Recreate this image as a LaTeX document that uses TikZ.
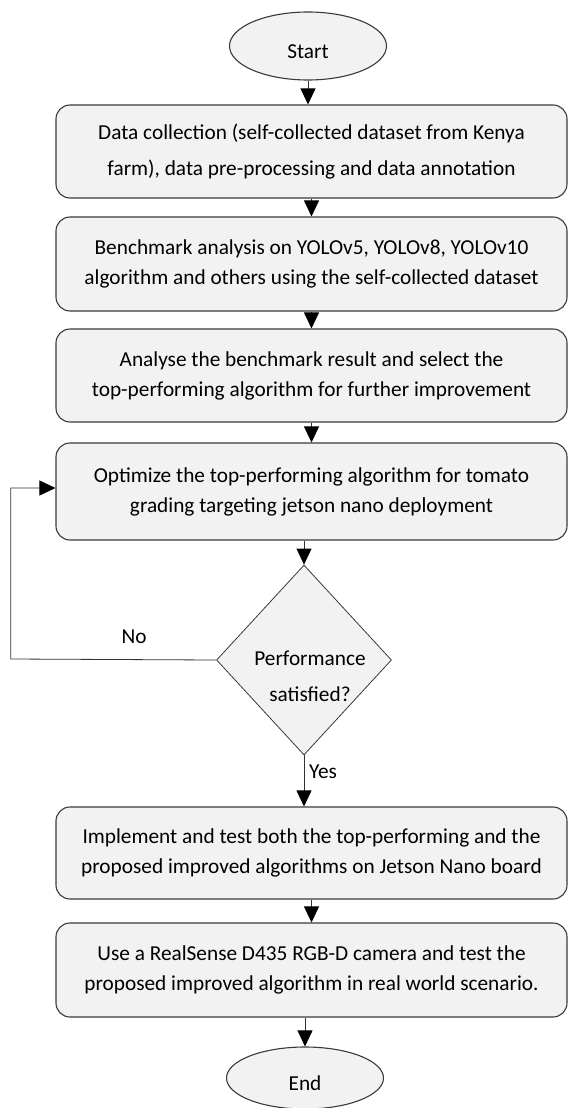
\documentclass[tikz,border=0pt]{standalone}
\usepackage{fontspec}
\setmainfont{Carlito}
\usetikzlibrary{shapes.geometric,arrows.meta}
\definecolor{boxfill}{HTML}{F2F2F2}
\definecolor{boxline}{HTML}{3A3A3A}
\begin{document}
\begin{tikzpicture}[x=1pt,y=-1pt,
  every node/.style={font=\fontsize{21.3}{30}\selectfont},
  procbox/.style={draw=boxline,fill=boxfill,line width=1.1pt,rounded corners=14pt,
    minimum width=511pt,minimum height=93pt,align=center,inner sep=0pt},
  term/.style={ellipse,draw=boxline,fill=boxfill,line width=1.1pt,
    minimum width=157pt,minimum height=68pt,inner sep=0pt,text height=25pt,text depth=0pt},
  decision/.style={diamond,draw=boxline,fill=boxfill,line width=0.8pt,
    minimum width=175pt,minimum height=190pt,inner sep=0pt},
  flow/.style={draw=black!80,line width=0.8pt,-{Triangle[length=16pt,width=15pt,color=black,fill=black]}},
  plain/.style={inner sep=0pt}
]
\path[use as bounding box] (0,0) rectangle (568,1108);

\node[term] (start) at (308,46) {Start};
\node[procbox,minimum height=93pt,font=\fontsize{21.3}{36}\selectfont] (b1) at (311.5,151.5)
  {Data collection (self-collected dataset from Kenya\\farm), data pre-processing and data annotation};
\node[procbox,minimum height=94pt] (b2) at (311.5,264)
  {Benchmark analysis on YOLOv5, YOLOv8, YOLOv10\\algorithm and others using the self-collected dataset};
\node[procbox,minimum height=93pt] (b3) at (311.5,375.5)
  {Analyse the benchmark result and select the\\top-performing algorithm for further improvement};
\node[procbox,minimum height=97pt] (b4) at (311.5,491.5)
  {Optimize the top-performing algorithm for tomato\\grading targeting jetson nano deployment};
\node[decision] (dec) at (304,660) {};
\node[plain,align=center,font=\fontsize{21.3}{36}\selectfont] (dectxt) at (310,676) {Performance\\satisfied?};
\node[procbox,minimum height=92pt] (b5) at (311.5,853)
  {Implement and test both the top-performing and the\\proposed improved algorithms on Jetson Nano board};
\node[procbox,minimum height=94pt] (b6) at (311.5,970)
  {Use a RealSense D435 RGB-D camera and test the\\proposed improved algorithm in real world scenario.};
\node[term,minimum height=62pt] (end) at (305,1078) {End};

\node[plain] (nolbl) at (134,637) {No};
\node[plain,anchor=west] (yeslbl) at (309,772) {Yes};

\coordinate (loopc) at (10.7,659);

\draw[flow] (start.south) -- (start.south |- b1.north);
\draw[flow] (b1.south) -- (b2.north);
\draw[flow] (b2.south) -- (b3.north);
\draw[flow] (b3.south) -- (b4.north);
\draw[flow] (dec.north |- b4.south) -- (dec.north);
\draw[flow] (dec.south) -- (dec.south |- b5.north);
\draw[flow] (b5.south) -- (b6.north);
\draw[flow] (end.north |- b6.south) -- (end.north);
\draw[flow] (dec.west) -- (loopc) |- ([yshift=3.5pt]b4.west);
\end{tikzpicture}
\end{document}
